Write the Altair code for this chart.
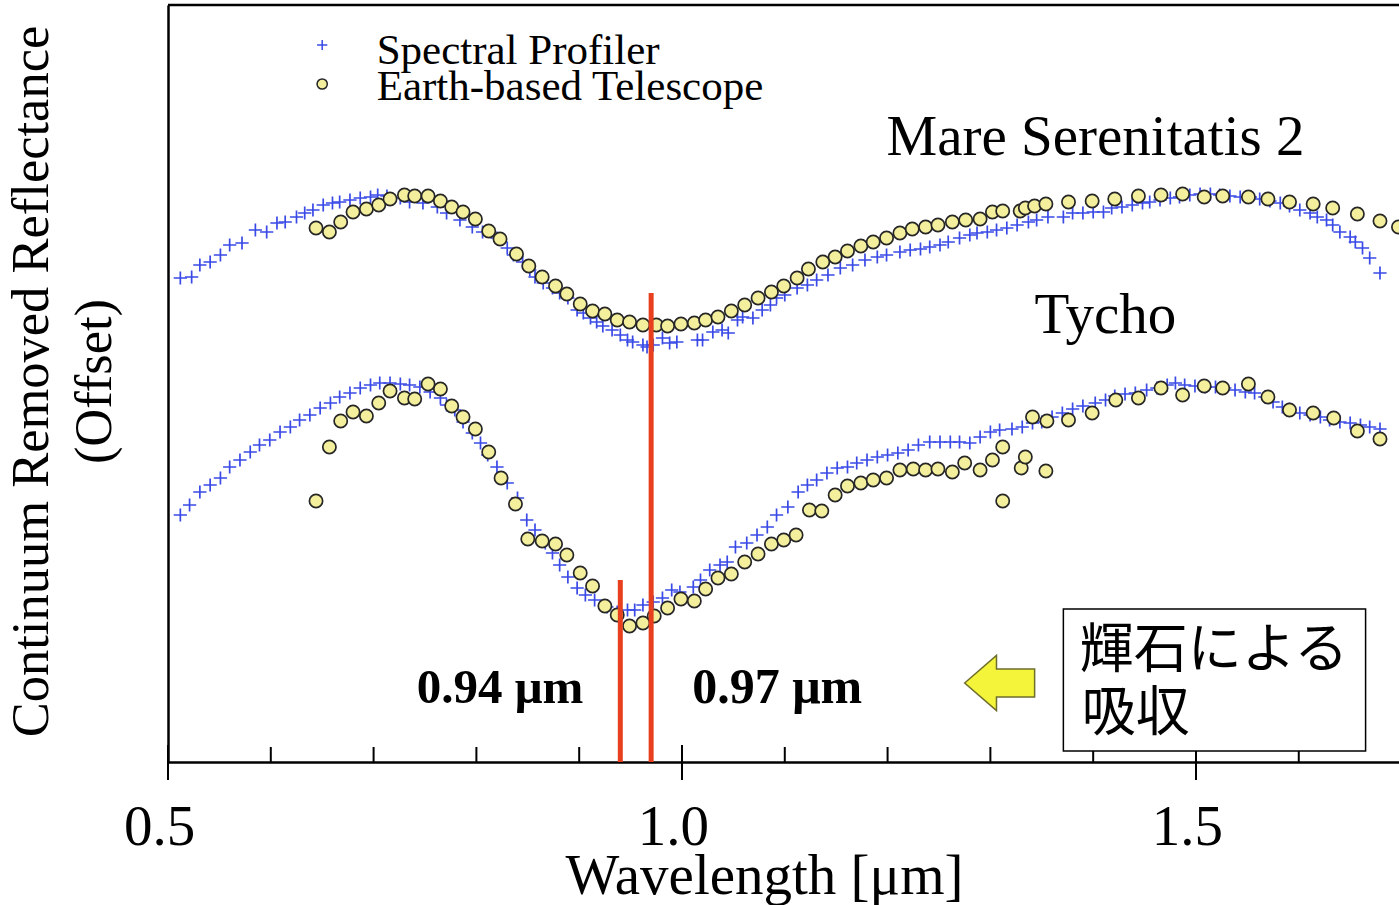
import altair as alt
import pandas as pd

# ---- Spectral Profiler and telescope spectra (continuum removed, offset) ----
# Mare Serenitatis 2, Spectral Profiler
sp_mare_wl = [0.512, 0.523, 0.531, 0.541, 0.551, 0.560, 0.572, 0.585, 0.596, 0.606, 0.614, 0.625,
              0.633, 0.641, 0.651, 0.660, 0.667, 0.677, 0.687, 0.697, 0.704, 0.713, 0.726, 0.735,
              0.748, 0.762, 0.771, 0.784, 0.796, 0.806, 0.820, 0.830, 0.836, 0.845, 0.852, 0.857,
              0.865, 0.874, 0.881, 0.889, 0.898, 0.904, 0.911, 0.917, 0.923, 0.932, 0.940, 0.947,
              0.952, 0.962, 0.966, 0.972, 0.981, 0.988, 0.995, 1.015, 1.020, 1.030, 1.039, 1.045,
              1.054, 1.059, 1.069, 1.078, 1.086, 1.092, 1.100, 1.112, 1.122, 1.131, 1.142, 1.154,
              1.166, 1.178, 1.190, 1.199, 1.212, 1.222, 1.232, 1.241, 1.251, 1.259, 1.270, 1.280,
              1.287, 1.297, 1.306, 1.316, 1.326, 1.337, 1.345, 1.356, 1.371, 1.380, 1.390, 1.400,
              1.410, 1.418, 1.428, 1.438, 1.448, 1.455, 1.465, 1.475, 1.484, 1.494, 1.504, 1.514,
              1.523, 1.533, 1.543, 1.553, 1.562, 1.572, 1.582, 1.591, 1.601, 1.611, 1.618, 1.627,
              1.633, 1.640, 1.650, 1.655, 1.662, 1.669, 1.679]
sp_mare_r = [4.84, 4.85, 4.97, 5.00, 5.07, 5.17, 5.19, 5.32, 5.30, 5.39, 5.40, 5.45,
             5.49, 5.52, 5.57, 5.59, 5.60, 5.62, 5.64, 5.65, 5.67, 5.66, 5.64, 5.60,
             5.59, 5.55, 5.49, 5.42, 5.35, 5.30, 5.24, 5.14, 5.07, 5.00, 4.92, 4.85,
             4.79, 4.74, 4.69, 4.64, 4.52, 4.49, 4.44, 4.40, 4.36, 4.32, 4.27, 4.22,
             4.20, 4.17, 4.15, 4.17, 4.24, 4.19, 4.20, 4.22, 4.22, 4.30, 4.32, 4.29,
             4.42, 4.45, 4.44, 4.52, 4.57, 4.64, 4.67, 4.74, 4.77, 4.82, 4.87, 4.94,
             4.97, 5.02, 5.05, 5.07, 5.10, 5.12, 5.13, 5.15, 5.17, 5.20, 5.24, 5.27,
             5.29, 5.30, 5.32, 5.34, 5.37, 5.40, 5.42, 5.45, 5.45, 5.49, 5.49, 5.50,
             5.50, 5.54, 5.55, 5.57, 5.59, 5.60, 5.62, 5.64, 5.65, 5.67, 5.68, 5.68,
             5.67, 5.66, 5.65, 5.65, 5.63, 5.61, 5.59, 5.56, 5.52, 5.49, 5.45, 5.42,
             5.37, 5.30, 5.25, 5.20, 5.14, 5.04, 4.89]

# Mare Serenitatis 2, Earth-based telescope
tel_mare_wl = [0.644, 0.657, 0.668, 0.680, 0.693, 0.705, 0.716, 0.730, 0.740, 0.753, 0.765, 0.776,
               0.787, 0.799, 0.812, 0.823, 0.839, 0.851, 0.864, 0.877, 0.888, 0.901, 0.913, 0.925,
               0.937, 0.949, 0.962, 0.975, 0.986, 0.999, 1.012, 1.023, 1.035, 1.048, 1.061, 1.074,
               1.087, 1.099, 1.112, 1.123, 1.137, 1.149, 1.161, 1.174, 1.186, 1.199, 1.212, 1.224,
               1.237, 1.249, 1.263, 1.276, 1.290, 1.302, 1.312, 1.329, 1.334, 1.343, 1.354, 1.376,
               1.399, 1.421, 1.444, 1.466, 1.487, 1.508, 1.526, 1.551, 1.570, 1.591, 1.614, 1.633,
               1.657, 1.679, 1.697]
tel_mare_r = [5.34, 5.30, 5.40, 5.50, 5.53, 5.57, 5.63, 5.67, 5.66, 5.66, 5.61, 5.55,
              5.50, 5.43, 5.31, 5.23, 5.08, 4.96, 4.85, 4.76, 4.68, 4.58, 4.51, 4.48,
              4.42, 4.40, 4.37, 4.37, 4.36, 4.38, 4.39, 4.42, 4.45, 4.51, 4.57, 4.64,
              4.70, 4.76, 4.84, 4.93, 5.00, 5.05, 5.11, 5.16, 5.20, 5.24, 5.29, 5.33,
              5.35, 5.37, 5.40, 5.42, 5.43, 5.50, 5.51, 5.51, 5.54, 5.56, 5.58, 5.60,
              5.61, 5.63, 5.66, 5.67, 5.68, 5.65, 5.66, 5.65, 5.63, 5.60, 5.58, 5.54,
              5.48, 5.41, 5.35]

# Tycho, Spectral Profiler
sp_tycho_wl = [0.512, 0.521, 0.531, 0.541, 0.551, 0.560, 0.570, 0.580, 0.589, 0.599, 0.609, 0.619,
               0.628, 0.638, 0.648, 0.658, 0.667, 0.677, 0.687, 0.697, 0.706, 0.716, 0.726, 0.735,
               0.745, 0.755, 0.765, 0.771, 0.779, 0.787, 0.796, 0.804, 0.811, 0.820, 0.830, 0.840,
               0.849, 0.857, 0.867, 0.874, 0.881, 0.889, 0.898, 0.906, 0.915, 0.927, 0.937, 0.947,
               0.954, 0.962, 0.972, 0.981, 0.990, 0.998, 1.011, 1.018, 1.027, 1.037, 1.044, 1.052,
               1.063, 1.073, 1.083, 1.092, 1.103, 1.113, 1.122, 1.131, 1.141, 1.151, 1.161, 1.170,
               1.180, 1.190, 1.200, 1.210, 1.220, 1.230, 1.241, 1.251, 1.261, 1.270, 1.280, 1.290,
               1.300, 1.309, 1.321, 1.331, 1.341, 1.350, 1.360, 1.370, 1.380, 1.390, 1.402, 1.412,
               1.421, 1.431, 1.441, 1.452, 1.462, 1.472, 1.480, 1.489, 1.499, 1.509, 1.519, 1.528,
               1.538, 1.548, 1.557, 1.567, 1.575, 1.584, 1.591, 1.601, 1.611, 1.621, 1.630, 1.640,
               1.650, 1.660, 1.669, 1.679]
sp_tycho_r = [2.47, 2.57, 2.70, 2.77, 2.84, 2.95, 3.02, 3.10, 3.17, 3.22, 3.30, 3.35,
              3.42, 3.47, 3.54, 3.59, 3.65, 3.69, 3.74, 3.77, 3.79, 3.79, 3.78, 3.77,
              3.75, 3.70, 3.64, 3.57, 3.52, 3.40, 3.29, 3.19, 3.07, 2.95, 2.79, 2.64,
              2.42, 2.32, 2.19, 2.09, 1.97, 1.85, 1.74, 1.67, 1.62, 1.55, 1.50, 1.52,
              1.52, 1.57, 1.60, 1.64, 1.72, 1.70, 1.75, 1.82, 1.92, 1.97, 2.00, 2.15,
              2.19, 2.27, 2.35, 2.47, 2.55, 2.70, 2.77, 2.82, 2.89, 2.94, 2.95, 2.99,
              3.02, 3.05, 3.07, 3.09, 3.12, 3.17, 3.20, 3.20, 3.20, 3.20, 3.19, 3.25,
              3.30, 3.32, 3.33, 3.35, 3.39, 3.40, 3.45, 3.49, 3.53, 3.56, 3.59, 3.62,
              3.66, 3.68, 3.69, 3.72, 3.74, 3.77, 3.79, 3.77, 3.76, 3.75, 3.75, 3.74,
              3.72, 3.70, 3.69, 3.65, 3.60, 3.55, 3.53, 3.49, 3.47, 3.45, 3.42, 3.40,
              3.39, 3.37, 3.35, 3.33]

# Tycho, Earth-based telescope
tel_tycho_wl = [0.644, 0.657, 0.668, 0.680, 0.693, 0.705, 0.716, 0.730, 0.740, 0.753, 0.765, 0.776,
                0.787, 0.799, 0.812, 0.824, 0.838, 0.850, 0.864, 0.877, 0.888, 0.901, 0.913, 0.925,
                0.937, 0.949, 0.962, 0.973, 0.986, 0.999, 1.012, 1.023, 1.035, 1.048, 1.061, 1.074,
                1.087, 1.099, 1.111, 1.124, 1.136, 1.149, 1.161, 1.174, 1.186, 1.199, 1.212, 1.225,
                1.237, 1.249, 1.263, 1.275, 1.290, 1.302, 1.312, 1.312, 1.330, 1.334, 1.341, 1.354,
                1.355, 1.376, 1.399, 1.422, 1.444, 1.466, 1.487, 1.508, 1.526, 1.551, 1.570, 1.591,
                1.614, 1.634, 1.657, 1.679]
tel_tycho_r = [2.61, 3.15, 3.41, 3.50, 3.46, 3.59, 3.71, 3.64, 3.63, 3.78, 3.73, 3.56,
               3.45, 3.33, 3.10, 2.84, 2.58, 2.23, 2.21, 2.18, 2.07, 1.89, 1.76, 1.56,
               1.47, 1.36, 1.39, 1.46, 1.54, 1.63, 1.61, 1.73, 1.84, 1.88, 2.00, 2.08,
               2.18, 2.22, 2.27, 2.52, 2.51, 2.67, 2.76, 2.79, 2.82, 2.84, 2.92, 2.93,
               2.92, 2.93, 2.90, 2.99, 2.92, 3.02, 3.15, 2.61, 2.94, 3.05, 3.45, 2.91,
               3.41, 3.42, 3.49, 3.62, 3.64, 3.74, 3.67, 3.76, 3.74, 3.78, 3.65, 3.52,
               3.49, 3.44, 3.31, 3.23]

# Pyroxene band centres marked with vertical lines
band_wl = [0.94, 0.97]
band_top = [1.82, 4.69]
band_text = ["0.94 \u03bcm", "0.97 \u03bcm"]

# Axis tick positions
major_ticks = [0.5, 1.0, 1.5]
minor_ticks = [0.6, 0.7, 0.8, 0.9, 1.1, 1.2, 1.3, 1.4, 1.6]

SERIES = ["Spectral Profiler", "Earth-based Telescope"]
PLUS = "M-1,0L1,0M0,-1L0,1"
ARROW = "M-1,0L-0.09,-0.79L-0.09,-0.4L1,-0.4L1,0.4L-0.09,0.4L-0.09,0.79Z"
SERIF = "Liberation Serif"
SP_BLUE = "#3a4ae6"
TEL_FILL = "#f3ef9c"
TEL_EDGE = "#262626"

W, H = 1231, 757
X_MIN, X_MAX = 0.5, 1.6975
Y_MIN, Y_MAX = 0.0, 7.57

rows = []
for wl, r in zip(sp_mare_wl, sp_mare_r):
    rows.append({"wl": wl, "r": r, "series": SERIES[0], "target": "Mare Serenitatis 2"})
for wl, r in zip(sp_tycho_wl, sp_tycho_r):
    rows.append({"wl": wl, "r": r, "series": SERIES[0], "target": "Tycho"})
for wl, r in zip(tel_mare_wl, tel_mare_r):
    rows.append({"wl": wl, "r": r, "series": SERIES[1], "target": "Mare Serenitatis 2"})
for wl, r in zip(tel_tycho_wl, tel_tycho_r):
    rows.append({"wl": wl, "r": r, "series": SERIES[1], "target": "Tycho"})
spectra = pd.DataFrame(rows)

xscale = alt.Scale(domain=[X_MIN, X_MAX], nice=False, zero=False)
yscale = alt.Scale(domain=[Y_MIN, Y_MAX], nice=False, zero=False)

x_axis = alt.Axis(
    values=major_ticks, format=".1f", ticks=False, tickSize=0, grid=False,
    domainColor="black", domainWidth=2.5,
    labelFont=SERIF, labelFontSize=57, labelColor="black",
    labelBaseline="alphabetic", labelPadding=82, labelFlush=False, labelOffset=-9,
    title="Wavelength [\u03bcm]", titleFont=SERIF, titleFontSize=57,
    titleFontWeight="normal", titleColor="black",
    titleX=596, titleY=131, titleAlign="center", titleBaseline="alphabetic",
)
y_axis = alt.Axis(
    ticks=False, labels=False, grid=False, domainColor="black", domainWidth=2.5,
    title=["Continuum Removed Reflectance", "(Offset)"],
    titleFont=SERIF, titleFontSize=52.5, titleFontWeight="normal", titleColor="black",
    titleAngle=270, titleX=-121, titleY=376, titleAlign="center",
    titleBaseline="alphabetic", titleLineHeight=63,
)


def xq(field):
    return alt.X(field, type="quantitative", scale=xscale, axis=x_axis)


def yq(field):
    return alt.Y(field, type="quantitative", scale=yscale, axis=y_axis)


shape_scale = alt.Scale(domain=SERIES, range=[PLUS, "circle"])
fill_scale = alt.Scale(domain=SERIES, range=["rgba(0,0,0,0)", TEL_FILL])
stroke_scale = alt.Scale(domain=SERIES, range=[SP_BLUE, TEL_EDGE])

points = alt.Chart(spectra).mark_point(filled=True, size=175, strokeWidth=1.7, opacity=1).encode(
    x=xq("wl"),
    y=yq("r"),
    shape=alt.Shape("series:N", scale=shape_scale, legend=None),
    fill=alt.Fill("series:N", scale=fill_scale, legend=None),
    stroke=alt.Stroke("series:N", scale=stroke_scale, legend=None),
)

# Key in the upper-left corner: one symbol and one label per series
key_df = pd.DataFrame({
    "series": SERIES,
    "sym_wl": [0.650, 0.650],
    "sym_r": [7.17, 6.78],
    "txt_wl": [0.703, 0.703],
    "txt_r": [6.98, 6.62],
})
key_symbols = alt.Chart(key_df).mark_point(filled=True, size=105, strokeWidth=1.5, opacity=1).encode(
    x=xq("sym_wl"),
    y=yq("sym_r"),
    shape=alt.Shape("series:N", scale=shape_scale, legend=None),
    fill=alt.Fill("series:N", scale=fill_scale, legend=None),
    stroke=alt.Stroke("series:N", scale=stroke_scale, legend=None),
)
key_labels = alt.Chart(key_df).mark_text(
    font=SERIF, fontSize=43, align="left", baseline="alphabetic", color="black"
).encode(x=xq("txt_wl"), y=yq("txt_r"), text="series:N")

# Tick marks drawn inside the frame; the major ones cross the axis line
tick_df = pd.DataFrame(
    [{"wl": t, "y0": -0.18, "y1": 0.17} for t in major_ticks]
    + [{"wl": t, "y0": 0.0, "y1": 0.15} for t in minor_ticks]
)
ticks = alt.Chart(tick_df).mark_rule(color="black", strokeWidth=2).encode(
    x=xq("wl"), y=yq("y0"), y2="y1:Q",
)

top_frame = alt.Chart(pd.DataFrame({"k": [0]})).mark_rule(color="black", strokeWidth=2.5).encode(
    x=alt.value(0), x2=alt.value(W), y=alt.value(0)
)

bands = pd.DataFrame({"wl": band_wl, "top": band_top, "base": [0.0, 0.0]})
band_lines = alt.Chart(bands).mark_rule(color="#e8401f", strokeWidth=5).encode(
    x=xq("wl"), y=yq("base"), y2="top:Q",
)

label_left = alt.Chart(pd.DataFrame({"wl": [0.904], "r": [0.59], "txt": [band_text[0]]})).mark_text(
    font=SERIF, fontSize=49, fontWeight="bold", align="right", baseline="alphabetic", color="black"
).encode(x=xq("wl"), y=yq("r"), text="txt:N")
label_right = alt.Chart(pd.DataFrame({"wl": [1.010], "r": [0.59], "txt": [band_text[1]]})).mark_text(
    font=SERIF, fontSize=50, fontWeight="bold", align="left", baseline="alphabetic", color="black"
).encode(x=xq("wl"), y=yq("r"), text="txt:N")

names = alt.Chart(pd.DataFrame({
    "wl": [1.199, 1.343], "r": [6.07, 4.29], "txt": ["Mare Serenitatis 2", "Tycho"],
})).mark_text(font=SERIF, fontSize=57, align="left", baseline="alphabetic", color="black").encode(
    x=xq("wl"), y=yq("r"), text="txt:N"
)

# Note box: pyroxene absorption
box = alt.Chart(pd.DataFrame({"x0": [1.371], "x1": [1.665], "y0": [0.11], "y1": [1.53]})).mark_rect(
    fill="white", stroke="black", strokeWidth=1.5
).encode(x=xq("x0"), x2="x1:Q", y=yq("y0"), y2="y1:Q")
note = alt.Chart(pd.DataFrame({
    "wl": [1.387, 1.389], "r": [1.10, 0.47], "txt": ["輝石による", "吸収"],
})).mark_text(font="Noto Sans CJK JP", fontSize=54, align="left", baseline="middle", color="black").encode(
    x=xq("wl"), y=yq("r"), text="txt:N"
)
arrow = alt.Chart(pd.DataFrame({"wl": [1.309], "r": [0.79]})).mark_point(
    shape=ARROW, size=4900, filled=True, fill="#f4f43a", stroke="#6e6e2c", strokeWidth=1.5, opacity=1
).encode(x=xq("wl"), y=yq("r"))

chart = alt.layer(
    points, key_symbols, key_labels, ticks, top_frame, band_lines,
    label_left, label_right, names, box, note, arrow
).properties(
    width=W, height=H,
    autosize=alt.AutoSizeParams(type="none"),
    padding={"left": 168, "top": 5, "right": 0, "bottom": 143},
    background="white",
).configure_view(stroke=None)

chart.save("out.html", embed_options={"renderer": "svg", "actions": False})
